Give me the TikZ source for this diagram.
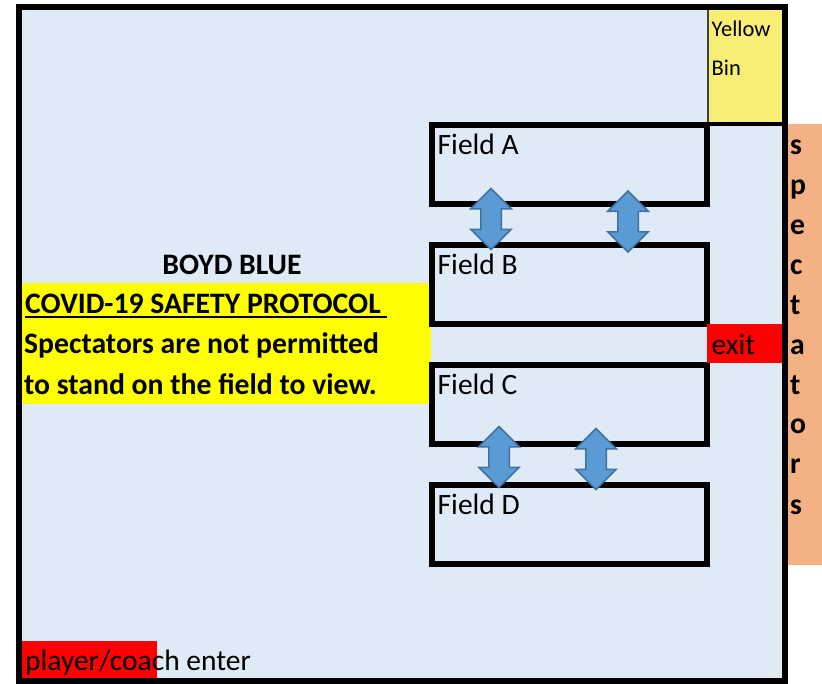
\documentclass[tikz,border=0pt]{standalone}
\usepackage{fontspec}
\setmainfont{Carlito}
\usetikzlibrary{shapes.arrows}
\definecolor{paleblue}{HTML}{DEEAF6}
\definecolor{binyellow}{HTML}{F8EE75}
\definecolor{specorange}{HTML}{F4B183}
\definecolor{arrowblue}{HTML}{5B9BD5}
\definecolor{arrowedge}{HTML}{41719C}
\definecolor{pureyellow}{HTML}{FFFF00}
\definecolor{purered}{HTML}{FF0000}
\tikzset{
  x=1pt,y=-1pt,
  field/.style={draw=black,line width=5.5pt,fill=paleblue,minimum width=275pt,minimum height=79pt,anchor=north west,inner sep=0pt,outer sep=0pt},
  fieldlabel/.style={anchor=base west,inner sep=0pt,font=\fontsize{29.5}{30}\selectfont},
  boldlabel/.style={anchor=base west,inner sep=0pt,font=\fontsize{29.7}{30}\selectfont\bfseries},
  specletter/.style={anchor=base west,inner sep=0pt,font=\fontsize{29.7}{30}\selectfont\bfseries},
  binlabel/.style={anchor=base west,inner sep=0pt,font=\fontsize{22.5}{23}\selectfont},
  passage/.style={double arrow,rotate=90,draw=arrowedge,line width=1.5pt,fill=arrowblue,inner sep=0pt,outer sep=0pt,minimum height=61pt,double arrow head extend=10pt},
  patch/.style={inner sep=0pt,outer sep=0pt,anchor=north west},
}
\begin{document}
\begin{tikzpicture}
\useasboundingbox (0,0) rectangle (822,683);
% ground
\node[patch,fill=paleblue,minimum width=766pt,minimum height=674pt] (ground) at (19,7) {};
% spectators band
\node[patch,fill=specorange,minimum width=34pt,minimum height=441pt] (spectators) at (788,124) {};
% yellow bin
\node[patch,fill=binyellow,minimum width=75pt,minimum height=115pt] (bin) at (708,9) {};
\draw[black!75,line width=2.5pt] (bin.north west) -- (bin.south west);
\draw[black,line width=4pt] (bin.south west) -- (bin.south east);
% warning panel
\node[patch,fill=pureyellow,minimum width=409pt,minimum height=121pt] (panel) at (22,283) {};
% fields
\node[field] (fieldA) at (432,125) {};
\node[field] (fieldB) at (432,245) {};
\node[field] (fieldC) at (432,365) {};
\node[field] (fieldD) at (432,485) {};
% exit and entrance
\node[patch,fill=purered,minimum width=75pt,minimum height=39pt] (exitbox) at (707,324) {};
\node[patch,fill=purered,minimum width=135pt,minimum height=38pt] (enterbox) at (22,641) {};
% frame
\node[patch,draw=black,line width=6pt,minimum width=766pt,minimum height=674pt] (frame) at (19,7) {};
% arrows
\node[passage] (ab1) at (491,219) {\rule{0pt}{19pt}};
\node[passage] (ab2) at (628,221.5) {\rule{0pt}{19pt}};
\node[passage] (cd1) at (499,457) {\rule{0pt}{19pt}};
\node[passage] (cd2) at (596,459) {\rule{0pt}{19pt}};
% labels
\node[fieldlabel] (la) at (437.5,154.5) {Field A};
\node[fieldlabel] (lb) at (437.5,274.5) {Field B};
\node[fieldlabel] (lc) at (437.5,394.5) {Field C};
\node[fieldlabel] (ld) at (437.5,514.5) {Field D};
\node[fieldlabel] (lexit) at (711.5,354.5) {exit};
\node[fieldlabel] (lenter) at (25,670.5) {player/coach enter};
\node[binlabel] (ly) at (711.5,36.5) {Yellow};
\node[binlabel] (lbin) at (711.5,75.5) {Bin};
\node[anchor=base,inner sep=0pt,font=\fontsize{29.7}{30}\selectfont\bfseries] (lboyd) at (232,274.5) {BOYD BLUE};
\node[boldlabel] (lcovid) at (25,313) {COVID-19 SAFETY PROTOCOL};
\draw[black,line width=2pt] (lcovid.base west)++(0,3.5) -- ++(362,0);
\node[boldlabel] (lspec) at (24,353.5) {Spectators are not permitted};
\node[boldlabel] (lstand) at (24,394.5) {to stand on the field to view.};
\node[specletter] (s1) at (790,154.5) {s};
\node[specletter] (s2) at (790,194.5) {p};
\node[specletter] (s3) at (790,234.5) {e};
\node[specletter] (s4) at (790,274.5) {c};
\node[specletter] (s5) at (790,314.5) {t};
\node[specletter] (s6) at (790,354.5) {a};
\node[specletter] (s7) at (790,394.5) {t};
\node[specletter] (s8) at (790,433.5) {o};
\node[specletter] (s9) at (790,473.5) {r};
\node[specletter] (s10) at (790,514.5) {s};
\end{tikzpicture}
\end{document}
